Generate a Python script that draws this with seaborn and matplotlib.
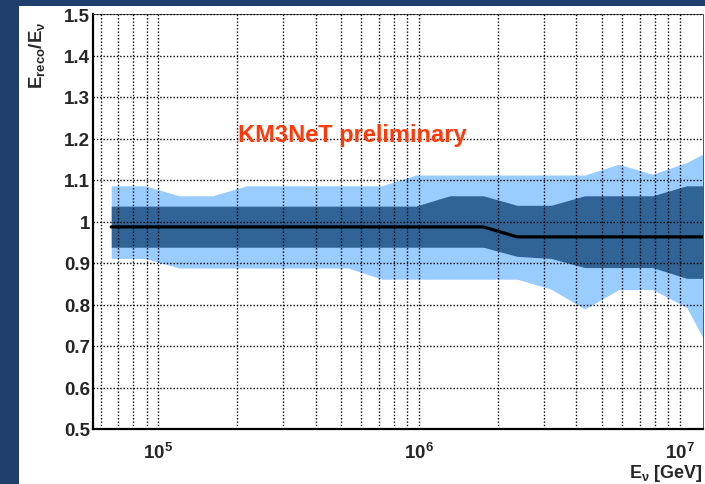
import numpy as np
import pandas as pd
import matplotlib
matplotlib.use("Agg")
import matplotlib.pyplot as plt
from matplotlib.patches import Rectangle
from matplotlib.ticker import MultipleLocator, FuncFormatter, LogLocator, NullFormatter
import seaborn as sns

# ---------------- data ----------------
energy_gev = [6.59e4, 8.89e4, 1.20e5, 1.61e5, 2.18e5, 2.94e5, 3.96e5, 5.33e5,
              7.19e5, 9.69e5, 1.31e6, 1.76e6, 2.37e6, 3.20e6, 4.31e6, 5.82e6,
              7.84e6, 1.06e7, 1.43e7]
median_ratio = [0.987, 0.987, 0.987, 0.987, 0.987, 0.987, 0.987, 0.987,
                0.987, 0.987, 0.987, 0.987, 0.963, 0.963, 0.963, 0.963,
                0.963, 0.963, 0.963]
inner_low = [0.938, 0.938, 0.938, 0.938, 0.938, 0.938, 0.938, 0.938,
             0.938, 0.938, 0.938, 0.938, 0.916, 0.911, 0.889, 0.889,
             0.889, 0.863, 0.863]
inner_high = [1.037, 1.037, 1.037, 1.037, 1.037, 1.037, 1.037, 1.037,
              1.037, 1.037, 1.062, 1.062, 1.039, 1.039, 1.062, 1.062,
              1.062, 1.086, 1.086]
outer_low = [0.911, 0.911, 0.888, 0.888, 0.888, 0.888, 0.888, 0.888,
             0.861, 0.861, 0.861, 0.861, 0.861, 0.837, 0.789, 0.836,
             0.836, 0.793, 0.640]
outer_high = [1.086, 1.086, 1.062, 1.062, 1.086, 1.086, 1.086, 1.086,
              1.086, 1.112, 1.112, 1.112, 1.112, 1.112, 1.112, 1.138,
              1.114, 1.142, 1.185]
decade_exponents = [5, 6, 7]

df = pd.DataFrame({"energy": energy_gev, "median": median_ratio,
                   "in_lo": inner_low, "in_hi": inner_high,
                   "out_lo": outer_low, "out_hi": outer_high})

# ---------------- style ----------------
sns.set_theme(style="white")
plt.rcParams["font.family"] = ["Liberation Sans", "DejaVu Sans"]
plt.rcParams["font.weight"] = "bold"
plt.rcParams["mathtext.fontset"] = "custom"
plt.rcParams["mathtext.rm"] = "Liberation Sans:bold"
plt.rcParams["mathtext.bf"] = "Liberation Sans:bold"
plt.rcParams["mathtext.it"] = "Liberation Sans:bold"
plt.rcParams["mathtext.default"] = "bf"

W, H = 705, 485
fig = plt.figure(figsize=(W / 100, H / 100), dpi=100)
fig.patch.set_facecolor("#213f6d")
fig.patches.append(Rectangle((19 / W, 0), 1 - 19 / W, (H - 7) / H,
                             transform=fig.transFigure, facecolor="white",
                             edgecolor="none", zorder=-10))

ax = fig.add_axes([93 / W, 1 - 430 / H, 610 / W, 415 / H])
ax.set_zorder(1)
ax.set_facecolor("white")
ax.set_xscale("log")

ax.fill_between(df["energy"], df["out_lo"], df["out_hi"], color="#99ccff",
                linewidth=0, zorder=1)
ax.fill_between(df["energy"], df["in_lo"], df["in_hi"], color="#316496",
                linewidth=0, zorder=1.5)
sns.lineplot(data=df, x="energy", y="median", color="black", linewidth=2.3,
             ax=ax, zorder=3)

ax.set_xlim(5.61e4, 1.224e7)
ax.set_ylim(0.5, 1.5)

# ticks
ax.xaxis.set_major_locator(LogLocator(base=10, numticks=10))
ax.xaxis.set_minor_locator(LogLocator(base=10, subs=np.arange(2, 10), numticks=20))
ax.xaxis.set_major_formatter(FuncFormatter(
    lambda v, p: r"$\mathbf{10^{%d}}$" % round(np.log10(v))
    if round(np.log10(v)) in decade_exponents else ""))
ax.xaxis.set_minor_formatter(NullFormatter())
ax.yaxis.set_major_locator(MultipleLocator(0.1))
ax.yaxis.set_minor_locator(MultipleLocator(0.01))
ax.yaxis.set_major_formatter(FuncFormatter(lambda v, p: "%g" % round(v, 2)))

ax.tick_params(axis="both", which="both", direction="in", color="black")
ax.tick_params(axis="x", which="major", length=9, width=1.0, labelsize=13.5, pad=9)
ax.tick_params(axis="x", which="minor", length=5, width=0.9)
ax.tick_params(axis="y", which="major", length=9, width=1.0, labelsize=13.5, pad=2)
ax.tick_params(axis="y", which="minor", length=4, width=0.8)
for lab in ax.get_xticklabels() + ax.get_yticklabels():
    lab.set_fontweight("bold")

# grid on top of the bands
ax.set_axisbelow(False)
dot = (0, (1, 1.4))
ax.grid(True, which="both", axis="x", color="black", linestyle=dot, linewidth=1.0)
ax.grid(True, which="major", axis="y", color="black", linestyle=dot, linewidth=1.0)

for side in ["left", "bottom"]:
    ax.spines[side].set_linewidth(1.6)
    ax.spines[side].set_color("black")
for side in ["top", "right"]:
    ax.spines[side].set_linewidth(0.7)
    ax.spines[side].set_color("#555555")

ax.set_xlabel(r"$E_{\nu}$ [GeV]", loc="right", fontsize=13, fontweight="bold",
              labelpad=0)
ax.set_ylabel(r"$E_{reco}/E_{\nu}$", loc="top", fontsize=13.5, fontweight="bold",
              labelpad=12)
ax.yaxis.label.set_y(0.985)

ax.text((352 - 93) / 610, (430 - 141.7) / 415, "KM3NeT preliminary",
        transform=ax.transAxes, ha="center", va="baseline", fontsize=17,
        fontweight="bold", color="#ff3a0a", zorder=5)

fig.savefig("out.png", dpi=100, facecolor=fig.get_facecolor())
